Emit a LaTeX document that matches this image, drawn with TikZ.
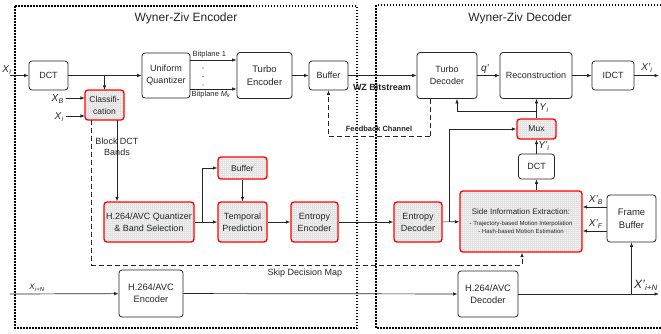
\documentclass[tikz,border=0pt]{standalone}
\usepackage{fontspec}
\setmainfont{Liberation Sans}
\usetikzlibrary{arrows.meta,patterns.meta}

% italic signal names
\newcommand\sig[2]{\textit{#1}\textsubscript{\textit{#2}}}

\tikzset{
  blk/.style={draw=black!85, line width=0.8pt, rounded corners=3pt, align=center,
              font=\fontsize{9}{12}\selectfont, text=black!85, inner sep=1pt},
  redblk/.style={blk, draw=red, line width=1.3pt, preaction={fill=gray!7},
              pattern={Hatch[angle=0,distance=2pt,line width=0.12pt]}, pattern color=gray!22},
  arr/.style={-{Latex[length=4.5pt,width=3.5pt]}, line width=0.7pt, draw=black!85},
  ln/.style={line width=0.7pt, draw=black!85},
  dsh/.style={dash pattern=on 5pt off 3pt, line width=0.7pt, draw=black!85},
  frame/.style={line width=1.2pt, dash pattern=on 1.5pt off 1.5pt},
  lbl/.style={font=\fontsize{9}{11}\selectfont, text=black!85, inner sep=0pt, align=center},
  sml/.style={font=\fontsize{7.5}{9}\selectfont, text=black!85, inner sep=0pt},
  bld/.style={font=\bfseries\fontsize{7.5}{9}\selectfont, text=black!85, inner sep=0pt},
  ttl/.style={font=\fontsize{12}{14}\selectfont, text=black!85, inner sep=0pt},
}

\begin{document}
\begin{tikzpicture}[x=1pt, y=-1pt]
\useasboundingbox (0,0) rectangle (661,333);

% enclosing frames
\draw[frame] (15,6) rectangle (357,328);
\draw[frame] (664,5) -- (376,5) -- (376,328) -- (664,328);
\node[ttl] (tenc) at (186,18) {Wyner-Ziv Encoder};
\node[ttl] (tdec) at (520,18) {Wyner-Ziv Decoder};

% encoder blocks
\node[blk, minimum width=39pt, minimum height=29pt] (dct1) at (48.5,75.5) {DCT};
\node[blk, minimum width=48pt, minimum height=45pt] (uq) at (166,75.5) {Uniform\\Quantizer};
\node[blk, minimum width=55pt, minimum height=46pt, font=\fontsize{9.5}{13}\selectfont] (te) at (264.5,75.5) {Turbo\\Encoder};
\node[blk, minimum width=39pt, minimum height=29pt] (buf1) at (328.5,75.5) {Buffer};
\node[redblk, minimum width=39pt, minimum height=30pt, font=\fontsize{8.5}{12}\selectfont] (cls) at (104.5,105) {Classifi-\\cation};
\node[redblk, minimum width=90pt, minimum height=40pt] (hq) at (149,222) {H.264/AVC Quantizer\\\& Band Selection};
\node[redblk, minimum width=49pt, minimum height=22pt, font=\fontsize{8.5}{11}\selectfont] (buf2) at (242.5,168) {Buffer};
\node[redblk, minimum width=49pt, minimum height=40pt] (tp) at (242.5,222) {Temporal\\Prediction};
\node[redblk, minimum width=47pt, minimum height=40pt] (ee) at (314.5,222) {Entropy\\Encoder};
\node[blk, minimum width=64pt, minimum height=47pt, font=\fontsize{9.3}{12}\selectfont] (henc) at (151,293.5) {H.264/AVC\\Encoder};

% decoder blocks
\node[blk, minimum width=60pt, minimum height=46pt] (td) at (447,75.5) {Turbo\\Decoder};
\node[blk, minimum width=72pt, minimum height=46pt] (rec) at (536,75.5) {Reconstruction};
\node[blk, minimum width=42pt, minimum height=29pt] (idct) at (613,75.5) {IDCT};
\node[redblk, minimum width=39pt, minimum height=20pt, font=\fontsize{8.5}{11}\selectfont] (mux) at (536.5,129) {Mux};
\node[blk, minimum width=36pt, minimum height=25pt] (dct2) at (536.5,166.5) {DCT};
\node[redblk, minimum width=48pt, minimum height=40pt] (ed) at (418,222) {Entropy\\Decoder};
\node[redblk, minimum width=122pt, minimum height=61pt, font=\fontsize{8}{10}\selectfont] (sie) at (521,221.5)
  {Side Information Extraction:\\[1pt]{\fontsize{6}{9}\selectfont - Trajectory-based Motion Interpolation}\\[-2pt]{\fontsize{6}{9}\selectfont - Hash-based Motion Estimation}};
\node[blk, minimum width=49pt, minimum height=47pt, font=\fontsize{9.5}{13}\selectfont] (fb) at (631.5,218.5) {Frame\\Buffer};
\node[blk, minimum width=60pt, minimum height=46pt, font=\fontsize{9.3}{12}\selectfont] (hdec) at (488,294) {H.264/AVC\\Decoder};

% free ends and junctions
\coordinate (xin) at (10,75.5);
\coordinate (j1) at (104.5,75.5);
\coordinate (xbin) at (66,98);
\coordinate (xiin) at (66,116);
\coordinate (bp1a) at (190,60);
\coordinate (bpma) at (190,89);
\coordinate (xout) at (659,75.5);
\coordinate (j2) at (536.5,111);
\coordinate (fbc) at (430,136);
\coordinate (skc) at (91,265);
\coordinate (j3) at (202,222);
\coordinate (j4) at (449,222);
\coordinate (xnin) at (10,294);
\coordinate (xnout) at (659,294);
\coordinate (j5) at (631.5,294);

% encoder connectors
\draw[arr] (xin) -- (dct1);
\node[lbl, font=\fontsize{10}{12}\selectfont] (lxi) at (7,70) {\sig{X}{i}};
\draw[arr] (dct1) -- (uq);
\draw[arr] (j1) -- (cls.north);
\draw[arr] (xbin) -- (xbin -| cls.west);
\draw[arr] (xiin) -- (xiin -| cls.west);
\node[lbl, font=\fontsize{10}{12}\selectfont, anchor=east] (lxb) at (64,99) {\sig{X}{B}};
\node[lbl, font=\fontsize{10}{12}\selectfont, anchor=east] (lxi2) at (64,117) {\sig{X}{i}};
\draw[arr] (bp1a) -- (bp1a -| te.west);
\draw[arr] (bpma) -- (bpma -| te.west);
\node[sml, anchor=south west] (lbp1) at (192.5,58.5) {Bitplane 1};
\node[sml, anchor=north west] (lbpm) at (191.5,90.5) {Bitplane \textit{M}\textsubscript{\textit{k}}};
\fill[black!85] (203,68) circle (0.7pt) (203,76.5) circle (0.7pt) (203,85) circle (0.7pt);
\draw[arr] (te) -- (buf1);
\draw[arr] ([xshift=12.5pt]cls.south) -- ([xshift=12.5pt]cls.south |- hq.north);
\node[lbl] (lbd) at (117,147) {Block DCT\\Bands};
\draw[arr] (hq) -- (tp);
\draw[arr] (j3) |- (buf2.west);
\draw[arr] (buf2) -- (tp);
\draw[arr] (tp) -- (ee);
\draw[arr] (ee) -- (ed);
\draw[arr] (xnin) -- (henc);
\node[lbl, font=\fontsize{8}{10}\selectfont] (lxn) at (37,288) {\sig{X}{i+N}};
\draw[arr] (henc) -- (hdec);

% skip decision map
\draw[dsh] ([xshift=-13.5pt]cls.south) -- (skc);
\draw[dsh, -{Latex[length=4.5pt,width=3.5pt]}] (skc) -| ([xshift=1pt]sie.south);
\node[lbl] (lsk) at (305,273) {Skip Decision Map};

% decoder connectors
\draw[arr] (buf1) -- (td);
\node[bld, font=\bfseries\fontsize{9}{11}\selectfont] (lwz) at (382,87) {WZ Bitstream};
\draw[arr] (td) -- (rec);
\node[lbl, font=\fontsize{10}{12}\selectfont] (lq) at (485,69) {\textit{q'}};
\draw[arr] (rec) -- (idct);
\draw[arr] (idct) -- (xout);
\node[lbl, font=\fontsize{10}{12}\selectfont] (lxo) at (647,68) {\sig{X'}{i}};
\draw[arr] (mux.north) -- (mux.north |- rec.south);
\node[lbl, font=\fontsize{10}{12}\selectfont] (lyi) at (544,108) {\sig{Y}{i}};
\draw[arr] (j2) -| ([xshift=10pt]td.south);
\draw[arr] (dct2) -- (mux);
\node[lbl, font=\fontsize{10}{12}\selectfont] (lyi2) at (544,146) {\sig{Y'}{i}};
\draw[arr] (dct2.south |- sie.north) -- (dct2.south);
\draw[dsh] ([xshift=-17pt]td.south) -- (fbc);
\draw[dsh, -{Latex[length=4.5pt,width=3.5pt]}] (fbc) -| (buf1.south);
\node[bld] (lfb) at (379,129) {Feedback Channel};
\draw[arr] (ed) -- (sie);
\draw[arr] (j4) |- (mux.west);
\draw[arr] (fb.west |- 0,207) -- (sie.east |- 0,207);
\draw[arr] (fb.west |- 0,231) -- (sie.east |- 0,231);
\node[lbl, font=\fontsize{10}{12}\selectfont] (lxb2) at (596,200) {\sig{X'}{B}};
\node[lbl, font=\fontsize{10}{12}\selectfont] (lxf) at (596,224) {\sig{X'}{F}};
\draw[arr] (hdec) -- (xnout);
\draw[arr] (j5) -- (fb.south);
\node[lbl, font=\fontsize{12}{14}\selectfont] (lxn2) at (646,285) {\sig{X'}{i+N}};
\end{tikzpicture}
\end{document}
